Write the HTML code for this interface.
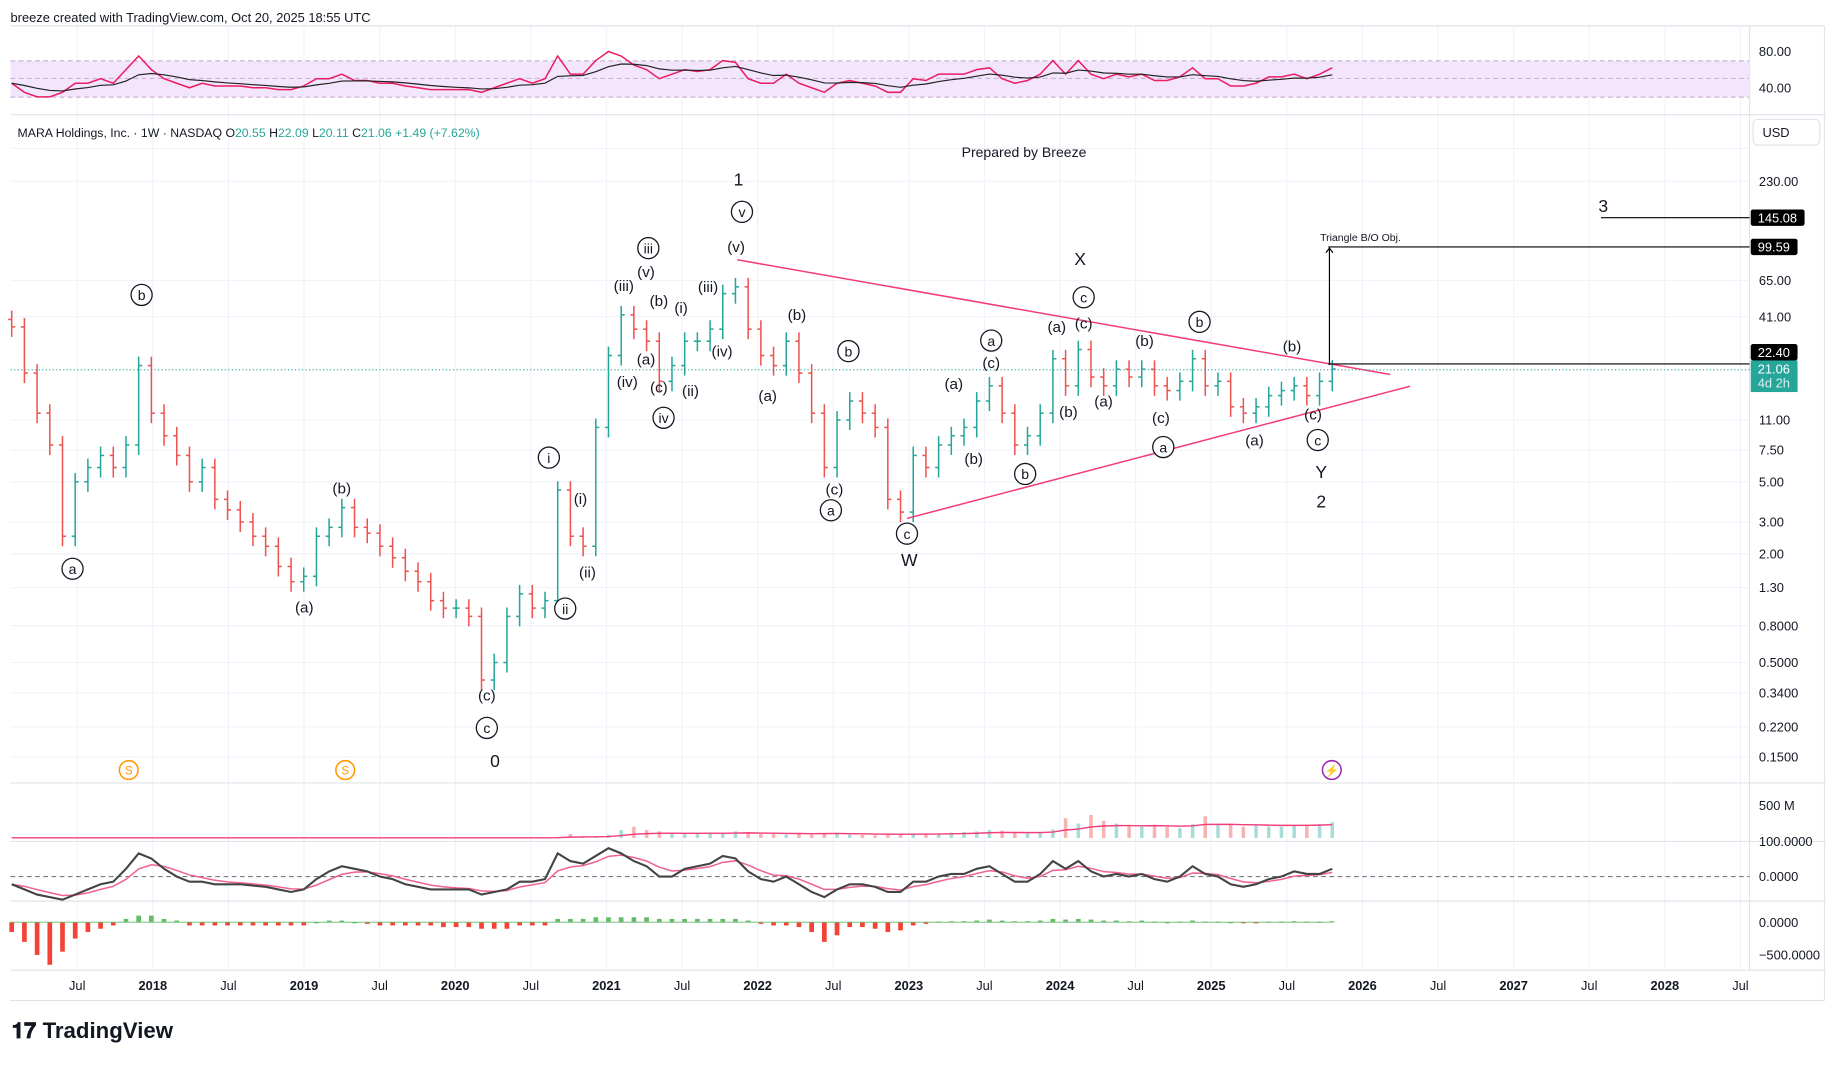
<!DOCTYPE html>
<html><head><meta charset="utf-8">
<style>
html,body{margin:0;padding:0;background:#fff;overflow:hidden;width:1835px;height:1059px}
#wrap{position:absolute;left:0;top:0;width:1568px;height:905px;transform:scale(1.17028);transform-origin:0 0;font-family:"Liberation Sans",sans-serif}
svg text{font-family:"Liberation Sans",sans-serif}
</style></head><body>
<div id="wrap">
<svg id="s" width="1568" height="905" viewBox="0 0 1568 905">
<text x="9" y="19" font-size="11" fill="#131722">breeze created with TradingView.com, Oct 20, 2025 18:55 UTC</text>
<g id="grid"></g>
<rect x="9" y="52" width="1486" height="31" fill="#f3e5fb"/>
<line x1="9" y1="52" x2="1495" y2="52" stroke="#c9b2d6" stroke-dasharray="4,3"/>
<line x1="9" y1="67" x2="1495" y2="67" stroke="#c9b2d6" stroke-dasharray="4,3"/>
<line x1="9" y1="83" x2="1495" y2="83" stroke="#c9b2d6" stroke-dasharray="4,3"/>
<g id="panes">
<line x1="9" y1="98" x2="1560" y2="98" stroke="#e0e3eb"/>
<line x1="9" y1="669" x2="1560" y2="669" stroke="#e0e3eb"/>
<line x1="9" y1="719" x2="1560" y2="719" stroke="#e0e3eb"/>
<line x1="9" y1="770" x2="1560" y2="770" stroke="#e0e3eb"/>
<line x1="9" y1="829" x2="1560" y2="829" stroke="#e0e3eb"/>
<line x1="1495" y1="22" x2="1495" y2="829" stroke="#e0e3eb"/>
<line x1="1559" y1="22" x2="1559" y2="855" stroke="#e0e3eb"/>
<line x1="9" y1="855" x2="1559" y2="855" stroke="#e0e3eb"/>
<line x1="9" y1="22" x2="1559" y2="22" stroke="#e0e3eb"/>
</g>
<line x1="9" y1="749" x2="1495" y2="749" stroke="#787b86" stroke-dasharray="4,3"/>
<g id="marks"></g>
<g>
<line x1="630" y1="222" x2="1188" y2="320" stroke="#f23d7a" stroke-width="1.3"/>
<line x1="775" y1="443" x2="1205" y2="330" stroke="#f23d7a" stroke-width="1.3"/>
</g>
<line x1="9" y1="316" x2="1495" y2="316" stroke="#26a69a" stroke-dasharray="1,2"/>
<line x1="1135" y1="311" x2="1495" y2="311" stroke="#000"/>
<line x1="1135" y1="211" x2="1495" y2="211" stroke="#000"/>
<line x1="1136" y1="312" x2="1136" y2="212" stroke="#000"/>
<path d="M1133,216 L1136,212 L1139,216" fill="none" stroke="#000"/>
<line x1="1368" y1="186" x2="1495" y2="186" stroke="#000"/>
<text x="1128" y="206" font-size="9" fill="#131722">Triangle B/O Obj.</text>
<text x="1370" y="181" font-size="15" fill="#131722" text-anchor="middle">3</text>
<text x="875" y="134" font-size="12" fill="#131722" text-anchor="middle">Prepared by Breeze</text>
<g id="legend">
<text x="15" y="117" font-size="10.5" fill="#131722">MARA Holdings, Inc. · 1W · NASDAQ <tspan>O</tspan><tspan fill="#26a69a">20.55</tspan> H<tspan fill="#26a69a">22.09</tspan> L<tspan fill="#26a69a">20.11</tspan> C<tspan fill="#26a69a">21.06</tspan> <tspan fill="#26a69a">+1.49 (+7.62%)</tspan></text>
</g>
<rect x="1498" y="102" width="57" height="22" rx="4" fill="#fff" stroke="#e0e3eb"/>
<text x="1506" y="117" font-size="11" fill="#131722">USD</text>
<g id="ann" font-size="13" fill="#131722" text-anchor="middle"></g>
<g id="axis" font-size="11" fill="#131722"></g>
<g id="tags">
<rect x="1496" y="179" width="46" height="14" rx="2" fill="#000"/><text x="1502" y="190" font-size="11" fill="#fff">145.08</text>
<rect x="1496" y="204" width="40" height="14" rx="2" fill="#000"/><text x="1502" y="215" font-size="11" fill="#fff">99.59</text>
<rect x="1496" y="294" width="40" height="14" rx="2" fill="#000"/><text x="1502" y="305" font-size="11" fill="#fff">22.40</text>
<rect x="1496" y="308" width="40" height="27" fill="#26a69a"/><text x="1502" y="319" font-size="11" fill="#fff">21.06</text><text x="1502" y="331" font-size="11" fill="#d8f0ee">4d 2h</text>
</g>
<g>
<circle cx="110" cy="658" r="8" fill="none" stroke="#ff9800" stroke-width="1.3"/><text x="110" y="662" font-size="10" fill="#ff9800" text-anchor="middle">S</text>
<circle cx="295" cy="658" r="8" fill="none" stroke="#ff9800" stroke-width="1.3"/><text x="295" y="662" font-size="10" fill="#ff9800" text-anchor="middle">S</text>
<circle cx="1138" cy="658" r="8" fill="none" stroke="#9c27b0" stroke-width="1.3"/><text x="1138" y="662" font-size="10" fill="#9c27b0" text-anchor="middle">⚡</text>
</g>
<g id="xaxis" font-size="11" fill="#131722" text-anchor="middle"></g>
<text x="10" y="887" font-size="19" font-weight="bold" fill="#131722">𝟏𝟕 TradingView</text>
</svg>
</div>
<script>
const closes=[36,20,12,8,2.5,5,6,7,6,8,22,
12,9,7,5,6,4,3.5,3,2.5,2.2,1.7,1.4,
1.5,2.5,2.8,3.6,2.8,2.6,2.2,1.9,1.6,1.4,1.1,1.0,
1.0,0.9,0.4,0.5,0.9,1.2,1.0,1.1,4.5,2.5,2.2,10,
25,42,35,30,18,22,30,30,35,55,60,35,
25,22,30,20,12,6,11,14,12,10,4,3.4,
7,6,8,9,10,14,17,12,8,9,12,24,
17,27,19,17,21,19,21,17,16,18,24,17,
18,13,12,13,15,16,17,15,18,21.06];
const volumes=[1,1,1,1,1,1,1,1,1,2,3,2,1,1,1,1,1,1,1,1,1,1,1,1,1,1,1,1,1,1,1,1,1,1,1,1,1,1,3,2,1,1,2,15,60,30,25,50,
120,170,120,100,80,60,70,80,60,100,90,60,60,50,60,50,70,80,50,45,40,45,60,55,
70,60,80,90,100,120,110,80,70,90,130,300,220,350,260,220,190,170,200,170,150,210,330,210,210,170,190,170,170,190,200,210,240];
const rsiValues=[45,35,30,30,35,45,45,50,45,60,75,60,50,45,40,45,42,42,42,40,40,38,38,42,50,50,55,48,48,45,45,42,40,38,38,38,38,35,40,45,50,45,50,75,55,55,70,
80,75,65,60,50,55,60,58,60,70,68,50,45,45,55,45,40,35,45,48,45,42,35,35,50,48,55,55,55,60,62,50,45,48,55,70,55,70,55,50,55,52,55,48,48,52,62,50,50,42,42,45,52,52,55,50,55,62];
const macdValues=[-0.3,-0.5,-0.7,-0.8,-0.9,-0.7,-0.5,-0.3,-0.2,0.3,0.9,0.7,0.3,0,-0.2,-0.2,-0.3,-0.3,-0.3,-0.35,-0.4,-0.5,-0.6,-0.5,-0.1,0.2,0.4,0.3,0.2,0,-0.1,-0.3,-0.4,-0.5,-0.5,-0.5,-0.5,-0.7,-0.6,-0.5,-0.2,-0.2,-0.1,0.9,0.6,0.5,0.8,
1.1,0.9,0.6,0.4,0,0,0.3,0.4,0.5,0.8,0.7,0.2,-0.1,-0.2,0,-0.3,-0.6,-0.8,-0.5,-0.3,-0.3,-0.4,-0.6,-0.6,-0.2,-0.2,0,0.1,0.1,0.3,0.4,0.1,-0.2,-0.2,0.1,0.6,0.3,0.6,0.2,0,0.1,0,0.1,-0.1,-0.2,0,0.4,0.1,0,-0.3,-0.4,-0.3,-0.1,0,0.2,0.1,0.1,0.3];
const histValues=[-0.3,-0.6,-1.0,-1.3,-0.9,-0.5,-0.3,-0.2,-0.1,0.1,0.2,0.2,0.1,0.05,-0.1,-0.1,-0.1,-0.1,-0.1,-0.1,-0.1,-0.1,-0.1,-0.1,0,0.05,0.05,0,-0.05,-0.1,-0.1,-0.1,-0.1,-0.1,-0.15,-0.15,-0.15,-0.2,-0.2,-0.2,-0.1,-0.1,-0.1,0.1,0.1,0.1,0.15,
0.15,0.15,0.15,0.15,0.1,0.1,0.1,0.1,0.1,0.1,0.1,0.05,-0.05,-0.1,-0.1,-0.15,-0.3,-0.6,-0.4,-0.15,-0.15,-0.2,-0.3,-0.25,-0.1,-0.05,0.02,0.03,0.03,0.05,0.08,0.05,0.03,0.03,0.05,0.1,0.08,0.1,0.08,0.05,0.05,0.03,0.05,0.02,0,0.02,0.05,0.02,0.02,0,-0.02,-0.02,0.02,0.02,0.03,0.02,0.02,0.03];
const priceTicks=[350,230,65,41,11,7.5,5,3,2,1.3,0.8,0.5,0.34,0.22,0.15];
const priceTickLabels=["350.00","230.00","65.00","41.00","11.00","7.50","5.00","3.00","2.00","1.30","0.8000","0.5000","0.3400","0.2200","0.1500"];
const timeLabels=["Jul","2018","Jul","2019","Jul","2020","Jul","2021","Jul","2022","Jul","2023","Jul","2024","Jul","2025","Jul","2026","Jul","2027","Jul","2028","Jul"];

const NS="http://www.w3.org/2000/svg";
function mk(tag,attrs,parent){const e=document.createElementNS(NS,tag);for(const k in attrs)e.setAttribute(k,attrs[k]);parent.appendChild(e);return e;}
const xOf=i=>10+i*10.85;
const yP=p=>155+(2.3617-Math.log10(p))*154.4;
const yR=v=>75-(v-40)*31/40;
const yV=v=>716-v/500*28;
const yM=v=>749-v*22;
const yH=v=>788-v*28;
const xT=k=>66+k*64.6;
const s=document.getElementById('s');
const grid=document.getElementById('grid');
const marks=document.getElementById('marks');

timeLabels.forEach((t,k)=>{
  const l=mk('line',{x1:xT(k),y1:22,x2:xT(k),y2:829,stroke:'#f0f3fa'},grid);
  
  
  const tx=mk('text',{x:xT(k),y:846,'font-weight':/^\d/.test(t)?'bold':'normal'},document.getElementById('xaxis'));
  tx.textContent=t;
  
  
});
priceTicks.forEach((p,k)=>{
  const y=yP(p);
  const l=mk('line',{x1:9,y1:y,x2:1495,y2:y,stroke:'#f0f3fa'},grid);
  
  
  if(y>128){
  const t=mk('text',{x:1503,y:y+4},document.getElementById('axis'));
  t.textContent=priceTickLabels[k];
  
  }
});
[["80.00",48],["40.00",79],["500 M",692],["100.0000",723],["0.0000",753],["0.0000",792],["−500.0000",820]].forEach(a=>{
  const t=mk('text',{x:1503,y:a[1],'font-size':11,fill:'#131722'},s);
  t.textContent=a[0];
  
  
});

volumes.forEach((v,i)=>{
  const up=i==0||closes[i]>=closes[i-1];
  const r=mk('rect',{x:xOf(i)-1.5,y:yV(v),width:3,height:716-yV(v),fill:up?'#a8dcd6':'#f7b2b2'},marks);
  
  
});
let vma=[],acc=volumes[0];volumes.forEach((v,i)=>{acc=acc*0.85+v*0.15;vma.push(acc);});
const vl=mk('polyline',{points:vma.map((v,i)=>xOf(i)+','+yV(v)).join(' '),fill:'none',stroke:'#f23d7a','stroke-width':1.2},marks);



closes.forEach((c,i)=>{
  const o=i==0?c*1.1:closes[i-1];
  const up=c>=o;
  const col=up?'#26a69a':'#ef5350';
  const hi=Math.max(o,c)*1.12,lo=Math.min(o,c)*0.88;
  const x=xOf(i);
  const g=mk('g',{stroke:col,'stroke-width':1.3},marks);
  
  
  mk('line',{x1:x,y1:yP(hi),x2:x,y2:yP(lo)},g);
  mk('line',{x1:x-3,y1:yP(o),x2:x,y2:yP(o)},g);
  mk('line',{x1:x,y1:yP(c),x2:x+3,y2:yP(c)},g);
});

const rl=mk('polyline',{points:rsiValues.map((v,i)=>xOf(i)+','+yR(v)).join(' '),fill:'none',stroke:'#e91e63','stroke-width':1.3},marks);


let rma=[],ra=rsiValues[0];rsiValues.forEach(v=>{ra=ra*0.75+v*0.25;rma.push(ra);});
const rml=mk('polyline',{points:rma.map((v,i)=>xOf(i)+','+yR(v)).join(' '),fill:'none',stroke:'#222','stroke-width':1},marks);



let sig=[],sa=macdValues[0];macdValues.forEach(v=>{sa=sa*0.6+v*0.4;sig.push(sa);});
const sl=mk('polyline',{points:sig.map((v,i)=>xOf(i)+','+yM(v)).join(' '),fill:'none',stroke:'#f06292','stroke-width':1.3},marks);


const ml=mk('polyline',{points:macdValues.map((v,i)=>xOf(i)+','+yM(v)).join(' '),fill:'none',stroke:'#444','stroke-width':1.8},marks);



histValues.forEach((v,i)=>{
  const y=Math.min(yH(v),788),h=Math.max(1,Math.abs(yH(v)-788));
  const r=mk('rect',{x:xOf(i)-2,y:y,width:4,height:h,fill:v>=0?'#66bb6a':'#f44336'},marks);
  
  
});
mk('line',{x1:9,y1:788,x2:1138,y2:788,stroke:'#66bb6a','stroke-width':0.8},marks);

const ann=[["a",62,486,1],["b",121,252,1],["(a)",260,519,0],["(b)",292,417,0],["(c)",416,594,0],["c",416,622,1],["0",423,651,0],
["i",469,391,1],["(i)",496,426,0],["(ii)",502,489,0],["ii",483,520,1],["(iii)",533,244,0],["iii",554,212,1],["(v)",552,232,0],["(b)",563,257,0],["(i)",582,263,0],["(iii)",605,245,0],["(a)",552,307,0],["(iv)",536,326,0],["(c)",563,331,0],["(ii)",590,334,0],["iv",567,357,1],["(iv)",617,300,0],
["(v)",629,211,0],["v",634,181,1],["1",631,154,0],["(b)",681,269,0],["(a)",656,338,0],["b",725,300,1],["(c)",713,418,0],["a",710,436,1],["c",775,456,1],["W",777,479,0],
["(a)",815,328,0],["(b)",832,392,0],["a",847,291,1],["(c)",847,310,0],["b",876,405,1],["(a)",903,279,0],["(c)",926,276,0],["c",926,254,1],["X",923,222,0],["(b)",913,352,0],["(a)",943,343,0],["(b)",978,291,0],["(c)",992,357,0],["a",994,382,1],["b",1025,275,1],["(a)",1072,376,0],["(b)",1104,296,0],["(c)",1122,354,0],["c",1126,376,1],["Y",1129,404,0],["2",1129,429,0]];
const ag=document.getElementById('ann');
ann.forEach(a=>{
  const g=mk('g',{},ag);
  
  
  if(a[3])mk('circle',{cx:a[1],cy:a[2],r:9,fill:'#fff',stroke:'#131722','stroke-width':1.1},g);
  const t=mk('text',{x:a[1],y:a[2]+4.5,'font-size':a[3]?12:(a[0].length==1?15:13)},g);
  t.textContent=a[0];
});
</script>
</body></html>
